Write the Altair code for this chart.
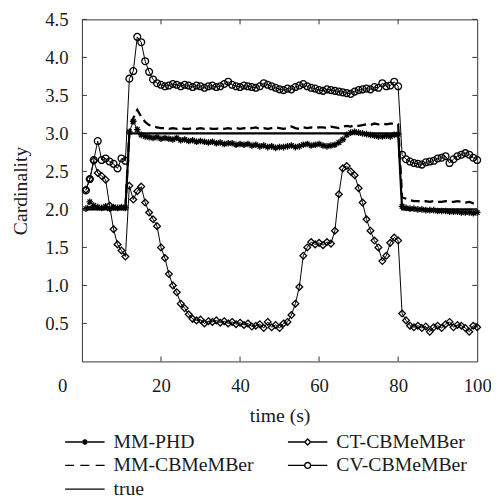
import altair as alt
import pandas as pd

time = list(range(1, 101))

mm_phd = [
    2.01, 2.10, 2.05, 2.03, 2.02, 2.04, 2.01, 2.03, 2.02, 2.03,
    2.02, 3.02, 3.16, 3.05, 2.98, 2.96, 2.95, 2.94, 2.95, 2.93,
    2.94, 2.93, 2.92, 2.94, 2.91, 2.92, 2.90, 2.91, 2.89, 2.90,
    2.89, 2.88, 2.89, 2.87, 2.88, 2.86, 2.87, 2.87, 2.85, 2.86,
    2.85, 2.86, 2.84, 2.85, 2.83, 2.84, 2.82, 2.83, 2.81, 2.82,
    2.82, 2.83, 2.84, 2.82, 2.83, 2.85, 2.86, 2.84, 2.85, 2.86,
    2.84, 2.83, 2.84, 2.85, 2.88, 2.92, 2.98, 3.01, 3.02, 3.01,
    3.00, 2.99, 2.98, 2.97, 2.96, 2.96, 2.97, 2.96, 2.98, 2.99,
    2.04, 2.02, 2.01, 2.01, 2.00, 2.00, 1.99, 1.99, 1.99, 1.98,
    1.98, 1.98, 1.97, 1.97, 1.97, 1.96, 1.96, 1.96, 1.95, 1.96,
]

mm_cbmember = [
    2.02, 2.03, 2.02, 2.01, 2.02, 2.02, 2.01, 2.02, 2.02, 2.01,
    2.02, 3.02, 3.20, 3.31, 3.22, 3.15, 3.11, 3.09, 3.08, 3.07,
    3.07, 3.06, 3.07, 3.06, 3.07, 3.06, 3.06, 3.07, 3.06, 3.07,
    3.06, 3.07, 3.06, 3.06, 3.07, 3.06, 3.07, 3.06, 3.07, 3.06,
    3.07, 3.06, 3.07, 3.08, 3.06, 3.07, 3.06, 3.07, 3.08, 3.07,
    3.06, 3.07, 3.09, 3.07, 3.06, 3.08, 3.07, 3.08, 3.07, 3.08,
    3.08, 3.07, 3.09, 3.08, 3.07, 3.09, 3.10, 3.09, 3.11, 3.10,
    3.11, 3.12, 3.11, 3.13, 3.12, 3.13, 3.12, 3.13, 3.13, 3.12,
    2.16, 2.14, 2.12, 2.11, 2.11, 2.10, 2.11, 2.10, 2.11, 2.10,
    2.10, 2.11, 2.10, 2.10, 2.11, 2.10, 2.09, 2.10, 2.08, 2.08,
]

ct_cbmember = [
    2.26, 2.40, 2.64, 2.48, 2.44, 2.39, 2.05, 1.74, 1.54, 1.46,
    1.38, 2.31, 2.13, 2.24, 2.30, 2.09, 1.96, 1.87, 1.78, 1.50,
    1.36, 1.15, 1.00, 0.91, 0.76, 0.70, 0.62, 0.56, 0.54, 0.55,
    0.50, 0.53, 0.52, 0.54, 0.51, 0.53, 0.50, 0.52, 0.49, 0.51,
    0.48, 0.50, 0.46, 0.47, 0.49, 0.44, 0.52, 0.45, 0.48, 0.44,
    0.50, 0.52, 0.61, 0.76, 0.98, 1.39, 1.50, 1.57, 1.54, 1.56,
    1.53, 1.57, 1.55, 1.72, 2.20, 2.54, 2.57, 2.50, 2.45, 2.28,
    2.09, 1.87, 1.72, 1.59, 1.50, 1.32, 1.39, 1.56, 1.63, 1.59,
    0.63, 0.54, 0.47, 0.45, 0.47, 0.44, 0.46, 0.39, 0.45, 0.47,
    0.44, 0.49, 0.52, 0.45, 0.48, 0.47, 0.44, 0.39, 0.47, 0.45,
]

cv_cbmember = [
    2.25, 2.40, 2.65, 2.90, 2.65, 2.67, 2.63, 2.60, 2.54, 2.67,
    2.64, 3.72, 3.82, 4.27, 4.20, 3.95, 3.81, 3.71, 3.66, 3.64,
    3.62, 3.63, 3.65, 3.64, 3.62, 3.64, 3.63, 3.61, 3.63, 3.62,
    3.60, 3.62, 3.63, 3.61, 3.62, 3.65, 3.68, 3.64, 3.62, 3.61,
    3.63, 3.62, 3.61, 3.60, 3.62, 3.66, 3.64, 3.62, 3.60, 3.58,
    3.57, 3.59, 3.58, 3.61, 3.63, 3.65, 3.62, 3.60, 3.59, 3.57,
    3.56, 3.58, 3.57, 3.56, 3.55, 3.54, 3.53, 3.52, 3.55, 3.57,
    3.58, 3.59, 3.58, 3.61, 3.60, 3.66, 3.62, 3.63, 3.68, 3.62,
    2.72, 2.66, 2.63, 2.61, 2.60, 2.59, 2.62, 2.63, 2.64, 2.67,
    2.68, 2.70, 2.61, 2.66, 2.70, 2.72, 2.74, 2.72, 2.68, 2.65,
]

true_card = [
    2, 2, 2, 2, 2, 2, 2, 2, 2, 2,
    2, 3, 3, 3, 3, 3, 3, 3, 3, 3,
    3, 3, 3, 3, 3, 3, 3, 3, 3, 3,
    3, 3, 3, 3, 3, 3, 3, 3, 3, 3,
    3, 3, 3, 3, 3, 3, 3, 3, 3, 3,
    3, 3, 3, 3, 3, 3, 3, 3, 3, 3,
    3, 3, 3, 3, 3, 3, 3, 3, 3, 3,
    3, 3, 3, 3, 3, 3, 3, 3, 3, 3,
    2, 2, 2, 2, 2, 2, 2, 2, 2, 2,
    2, 2, 2, 2, 2, 2, 2, 2, 2, 2,
]

# legend order (column-major: left column then right column)
legend_order = ["MM-PHD", "MM-CBMeMBer", "true", "CT-CBMeMBer", "CV-CBMeMBer"]
series_values = {
    "MM-PHD": mm_phd,
    "CT-CBMeMBer": ct_cbmember,
    "MM-CBMeMBer": mm_cbmember,
    "CV-CBMeMBer": cv_cbmember,
    "true": true_card,
}

x_ticks = [20, 40, 60, 80]
y_ticks = [0.5, 1.0, 1.5, 2.0, 2.5, 3.0, 3.5, 4.0, 4.5]
x_labels = [0, 20, 40, 60, 80, 100]

rows = []
for name, vals in series_values.items():
    for t, v in zip(time, vals):
        rows.append({"time": t, "value": v, "series": name})
df = pd.DataFrame(rows)

W, H = 401, 347
FONT = "Liberation Serif"
INK = "#1a1a1a"

x_enc = alt.X(
    "time:Q",
    scale=alt.Scale(domain=[0, 100], nice=False, zero=False),
    axis=alt.Axis(
        values=x_labels, title="time (s)", grid=False, domain=False, ticks=False, tickSize=0,
        labelPadding=16, labelFlush=False, labelFont=FONT, labelFontSize=19, labelColor=INK,
        labelOffset={"condition": {"test": "datum.value === 0", "value": -20}, "value": 0},
        titleFont=FONT, titleFontSize=20, titleFontWeight="normal", titleColor=INK, titlePadding=10,
    ),
)
y_enc = alt.Y(
    "value:Q",
    scale=alt.Scale(domain=[0, 4.5], nice=False, zero=False),
    axis=alt.Axis(
        values=y_ticks, format=".1f", title="Cardinality", grid=False, domain=False, ticks=False,
        tickSize=0, labelPadding=14, labelFlush=False, labelFont=FONT, labelFontSize=19,
        labelColor=INK, titleFont=FONT, titleFontSize=20, titleFontWeight="normal",
        titleColor=INK, titlePadding=14,
    ),
)


def series_line(names, **style):
    return alt.Chart(df).transform_filter(
        alt.FieldOneOfPredicate(field="series", oneOf=names)
    ).mark_line(color="black", **style).encode(
        x=x_enc, y=y_enc, detail="series:N", order="time:Q"
    )


true_line = series_line(["true"], strokeWidth=2.2)
dash_line = series_line(["MM-CBMeMBer"], strokeWidth=2.3, strokeDash=[9, 5])
thin_lines = series_line(["MM-PHD", "CT-CBMeMBer", "CV-CBMeMBer"], strokeWidth=1.0)

asterisk = "M-1,0L1,0M0,-1L0,1M-0.7,-0.7L0.7,0.7M-0.7,0.7L0.7,-0.7"
diamond = "M0,-1L1,0L0,1L-1,0Z"
marker_series = ["MM-PHD", "CT-CBMeMBer", "CV-CBMeMBer"]

points = alt.Chart(df).transform_filter(
    alt.FieldOneOfPredicate(field="series", oneOf=marker_series)
).mark_point(filled=False, color="black", strokeWidth=1.3, opacity=1).encode(
    x=x_enc,
    y=y_enc,
    shape=alt.Shape(
        "series:N",
        scale=alt.Scale(domain=marker_series, range=[asterisk, diamond, "circle"]),
        legend=None,
    ),
    size=alt.Size(
        "series:N",
        scale=alt.Scale(domain=marker_series, range=[45, 48, 60]),
        legend=None,
    ),
)

# legend symbols: line + marker
L = 1.74
m = 0.26
leg_phd = f"M-{L},0L{L},0M0,-{m}L0,{m}M-{m*0.7},-{m*0.7}L{m*0.7},{m*0.7}M-{m*0.7},{m*0.7}L{m*0.7},-{m*0.7}"
leg_ct = f"M-{L},0L-{m},0M{m},0L{L},0M0,-{m}L{m},0L0,{m}L-{m},0Z"
leg_mm = f"M-{L},0L-0.95,0M-0.4,0L0.4,0M0.95,0L{L},0"
leg_cv = f"M-{L},0L-{m},0M{m},0L{L},0M{m},0A{m},{m},0,1,1,-{m},0A{m},{m},0,1,1,{m},0Z"
leg_true = f"M-{L},0L{L},0"
legend_shapes = {
    "MM-PHD": leg_phd, "MM-CBMeMBer": leg_mm, "true": leg_true,
    "CT-CBMeMBer": leg_ct, "CV-CBMeMBer": leg_cv,
}

legend_layer = alt.Chart(df).transform_filter("false").mark_point(
    filled=False, color="black", opacity=1
).encode(
    x=x_enc,
    y=y_enc,
    shape=alt.Shape(
        "series:N",
        scale=alt.Scale(domain=legend_order, range=[legend_shapes[n] for n in legend_order]),
        legend=alt.Legend(
            title=None, orient="none", legendX=-9.5, legendY=416, columns=2,
            symbolSize=529, symbolStrokeWidth=1.4, symbolStrokeColor="black",
            symbolFillColor="white", symbolOpacity=1, labelFont=FONT, labelFontSize=20,
            labelColor=INK, labelOffset=16.5, columnPadding=31, rowPadding=1, padding=0,
            labelLimit=300,
        ),
    ),
)

xt_df = pd.DataFrame({"time": x_ticks})
yt_df = pd.DataFrame({"value": y_ticks})
tick_style = dict(color="#333", strokeWidth=1)
x_bottom = alt.Chart(xt_df).mark_rule(**tick_style).encode(x=x_enc, y=alt.value(H), y2=alt.value(H - 5))
x_top = alt.Chart(xt_df).mark_rule(**tick_style).encode(x=x_enc, y=alt.value(0), y2=alt.value(5))
y_left = alt.Chart(yt_df).mark_rule(**tick_style).encode(y=y_enc, x=alt.value(0), x2=alt.value(5))
y_right = alt.Chart(yt_df).mark_rule(**tick_style).encode(y=y_enc, x=alt.value(W), x2=alt.value(W - 5))

chart = alt.layer(
    true_line, dash_line, thin_lines, points, legend_layer, x_bottom, x_top, y_left, y_right
).resolve_scale(shape="independent").properties(
    width=W,
    height=H,
    autosize=alt.AutoSizeParams(type="none"),
    padding={"left": 75, "top": 8, "right": 14, "bottom": 136},
    background="white",
).configure_view(stroke="#333", strokeWidth=1)

chart.save("out.html", embed_options={"renderer": "svg", "actions": False})
